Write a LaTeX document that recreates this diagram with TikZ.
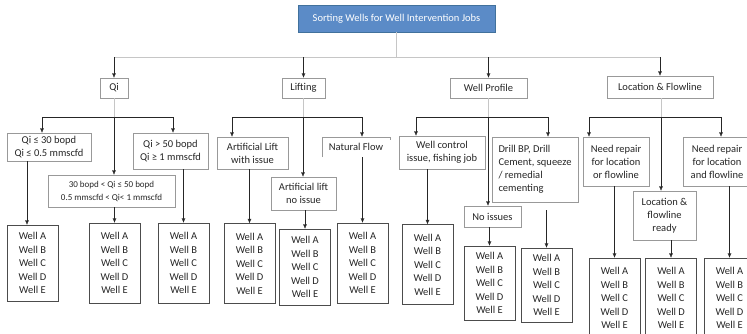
\documentclass[tikz,border=0pt]{standalone}
\usepackage{fontspec}
\setmainfont{Carlito}
\usetikzlibrary{arrows.meta}
\definecolor{titlefill}{RGB}{91,139,199}
\definecolor{titleline}{RGB}{65,113,156}
\definecolor{ink}{RGB}{38,38,38}
\newcommand{\wellnames}{Well A\\Well B\\Well C\\Well D\\Well E}

\begin{document}
\begin{tikzpicture}[x=1pt,y=-1pt,>={Latex[length=4.5pt,width=4pt]},
    wh/.style 2 args={minimum width=#1,minimum height=#2},
    box/.style={draw=gray!80,align=center,inner sep=1pt,text=ink,font=\fontsize{10.5}{13}\selectfont},
    wellbox/.style={box,draw=gray!60!black,wh={51pt}{80pt},font=\fontsize{10.5}{13.5}\selectfont},
    bus/.style={draw=gray!45},
    link/.style={draw=ink,->}]
    \useasboundingbox (0,0) rectangle (747,333);
    \clip (0,0) rectangle (747,333);

    % top
    \node[box,wh={197pt}{27pt},fill=titlefill,draw=titleline,text=white] at (396.5,18.5) (title) {Sorting Wells for Well Intervention Jobs};
    \node[box,wh={28pt}{20pt}] at (114,88) (qi) {Qi};
    \node[box,wh={43pt}{20pt}] at (303.5,88) (lift) {Lifting};
    \node[box,wh={77pt}{20pt}] at (488.5,88) (prof) {Well Profile};
    \node[box,wh={106pt}{22pt}] at (660,87) (loc) {Location \& Flowline};

    % criteria
    \node[box,wh={84pt}{28pt}] at (49,147) (qa) {Qi ≤ 30 bopd\\Qi ≤ 0.5 mmscfd};
    \node[box,wh={127pt}{32pt},font=\fontsize{9}{13}\selectfont] at (111.5,191) (qb) {30 bopd < Qi ≤ 50 bopd\\0.5 mmscfd < Qi< 1 mmscfd};
    \node[box,wh={75pt}{36pt}] at (170.5,151) (qc) {Qi > 50 bopd\\Qi ≥ 1 mmscfd};
    \node[box,wh={71pt}{32pt}] at (252.5,153) (la) {Artificial Lift\\with issue};
    \node[box,wh={65pt}{33pt}] at (303.5,193.5) (lb) {Artificial lift\\no issue};
    \node[box,draw=none,wh={68pt}{20pt}] at (356,147) (lc) {Natural Flow};
    \draw[gray!80] (lc.south west) -- (lc.north west) -- (lc.north east) -- ([yshift=-3pt]lc.north east);
    \node[box,wh={86pt}{33pt}] at (442,152.5) (pa) {Well control\\issue, fishing job};
    \node[box,wh={86pt}{65pt},align=left] at (535,169.5) (pb) {Drill BP, Drill\\Cement, squeeze\\/ remedial\\cementing};
    \node[box,wh={57pt}{21pt}] at (492.5,216.5) (pc) {No issues};
    \node[box,wh={66pt}{49pt}] at (616,161.5) (ma) {Need repair\\for location\\or flowline};
    \node[box,wh={63pt}{49pt}] at (664.5,215.5) (mb) {Location \&\\flowline\\ready};
    \node[box,wh={68pt}{49pt}] at (717,161.5) (mc) {Need repair\\for location\\and flowline};

    % wells
    \node[wellbox,wh={51pt}{76pt}] at (32.5,263) (w1) {\wellnames};
    \node[wellbox] at (114.5,263) (w2) {\wellnames};
    \node[wellbox] at (183.5,263) (w3) {\wellnames};
    \node[wellbox] at (249.5,263.5) (w4) {\wellnames};
    \node[wellbox,wh={51pt}{76pt}] at (305,267) (w5) {\wellnames};
    \node[wellbox] at (362.5,263) (w6) {\wellnames};
    \node[wellbox] at (427.5,264.5) (w7) {\wellnames};
    \node[wellbox,wh={51pt}{74pt}] at (489.5,283) (w8) {\wellnames};
    \node[wellbox,wh={51pt}{74pt}] at (546.5,285) (w9) {\wellnames};
    \node[wellbox] at (614.5,298) (w10) {\wellnames};
    \node[wellbox] at (671,298) (w11) {\wellnames};
    \node[wellbox] at (729.5,298) (w12) {\wellnames};

    % main bus
    \coordinate (top) at (396.5,57);
    \draw[bus] (title) -- (top);
    \draw[bus] (top -| qi) -- (top -| loc);
    \foreach \n in {qi,lift,prof,loc}
        \draw[link] (top -| \n) -- (\n);

    % branch buses
    \coordinate (qbus) at (114,117);
    \coordinate (lbus) at (303,117);
    \coordinate (pbus) at (488,117);
    \coordinate (mbus) at (661,117);
    \draw[bus] (qi) -- (qbus);
    \draw[bus] (lift.south -| lbus) -- (lbus);
    \draw[bus] (prof.south -| pbus) -- (pbus);
    \draw[bus] (loc.south -| mbus) -- (mbus);
    \draw[ink] ([xshift=-72pt]qbus) -- ([xshift=59pt]qbus);
    \draw[ink] ([xshift=-71pt]lbus) -- ([xshift=59pt]lbus);
    \draw[ink] ([xshift=-72pt]pbus) -- ([xshift=60pt]pbus);
    \draw[ink] ([xshift=-72pt]mbus) -- ([xshift=60pt]mbus);
    \draw[link] ([xshift=-72pt]qbus) -- ([xshift=-72pt]qbus |- qa.north);
    \draw[link] ([xshift=59pt]qbus) -- ([xshift=59pt]qbus |- qc.north);
    \draw[link] (qbus) -- (qbus |- qb.north);
    \draw[link] ([xshift=-71pt]lbus) -- ([xshift=-71pt]lbus |- la.north);
    \draw[link] ([xshift=59pt]lbus) -- ([xshift=59pt]lbus |- lc.north);
    \draw[link] (lbus) -- (lbus |- lb.north);
    \draw[link] ([xshift=-72pt]pbus) -- ([xshift=-72pt]pbus |- pa.north);
    \draw[link] ([xshift=60pt]pbus) -- ([xshift=60pt]pbus |- pb.north);
    \draw[link] (pbus) -- (pbus |- pc.north);
    \draw[link] ([xshift=-72pt]mbus) -- ([xshift=-72pt]mbus |- ma.north);
    \draw[link] ([xshift=60pt]mbus) -- ([xshift=60pt]mbus |- mc.north);
    \draw[link] (mbus) -- (mbus |- mb.north);

    % to wells
    \draw[link] ([xshift=-5.5pt]w1.north |- qa.south) -- ([xshift=-5.5pt]w1.north);
    \draw[link] (w2.north |- qb.south) -- (w2);
    \draw[link] (w3.north |- qc.south) -- (w3);
    \draw[link] (w4.north |- la.south) -- (w4);
    \draw[link] (w5.north |- lb.south) -- (w5);
    \draw[link] (w6.north |- lc.south) -- (w6);
    \draw[link] (w7.north |- pa.south) -- (w7);
    \draw[link] (w8.north |- pc.south) -- (w8);
    \draw[link,shorten <=8pt] (w9.north |- pb.south) -- (w9);
    \draw[link] (w10.north |- ma.south) -- (w10);
    \draw[link] (w11.north |- mb.south) -- (w11);
    \draw[link] (w12.north |- mc.south) -- (w12);
\end{tikzpicture}
\end{document}
